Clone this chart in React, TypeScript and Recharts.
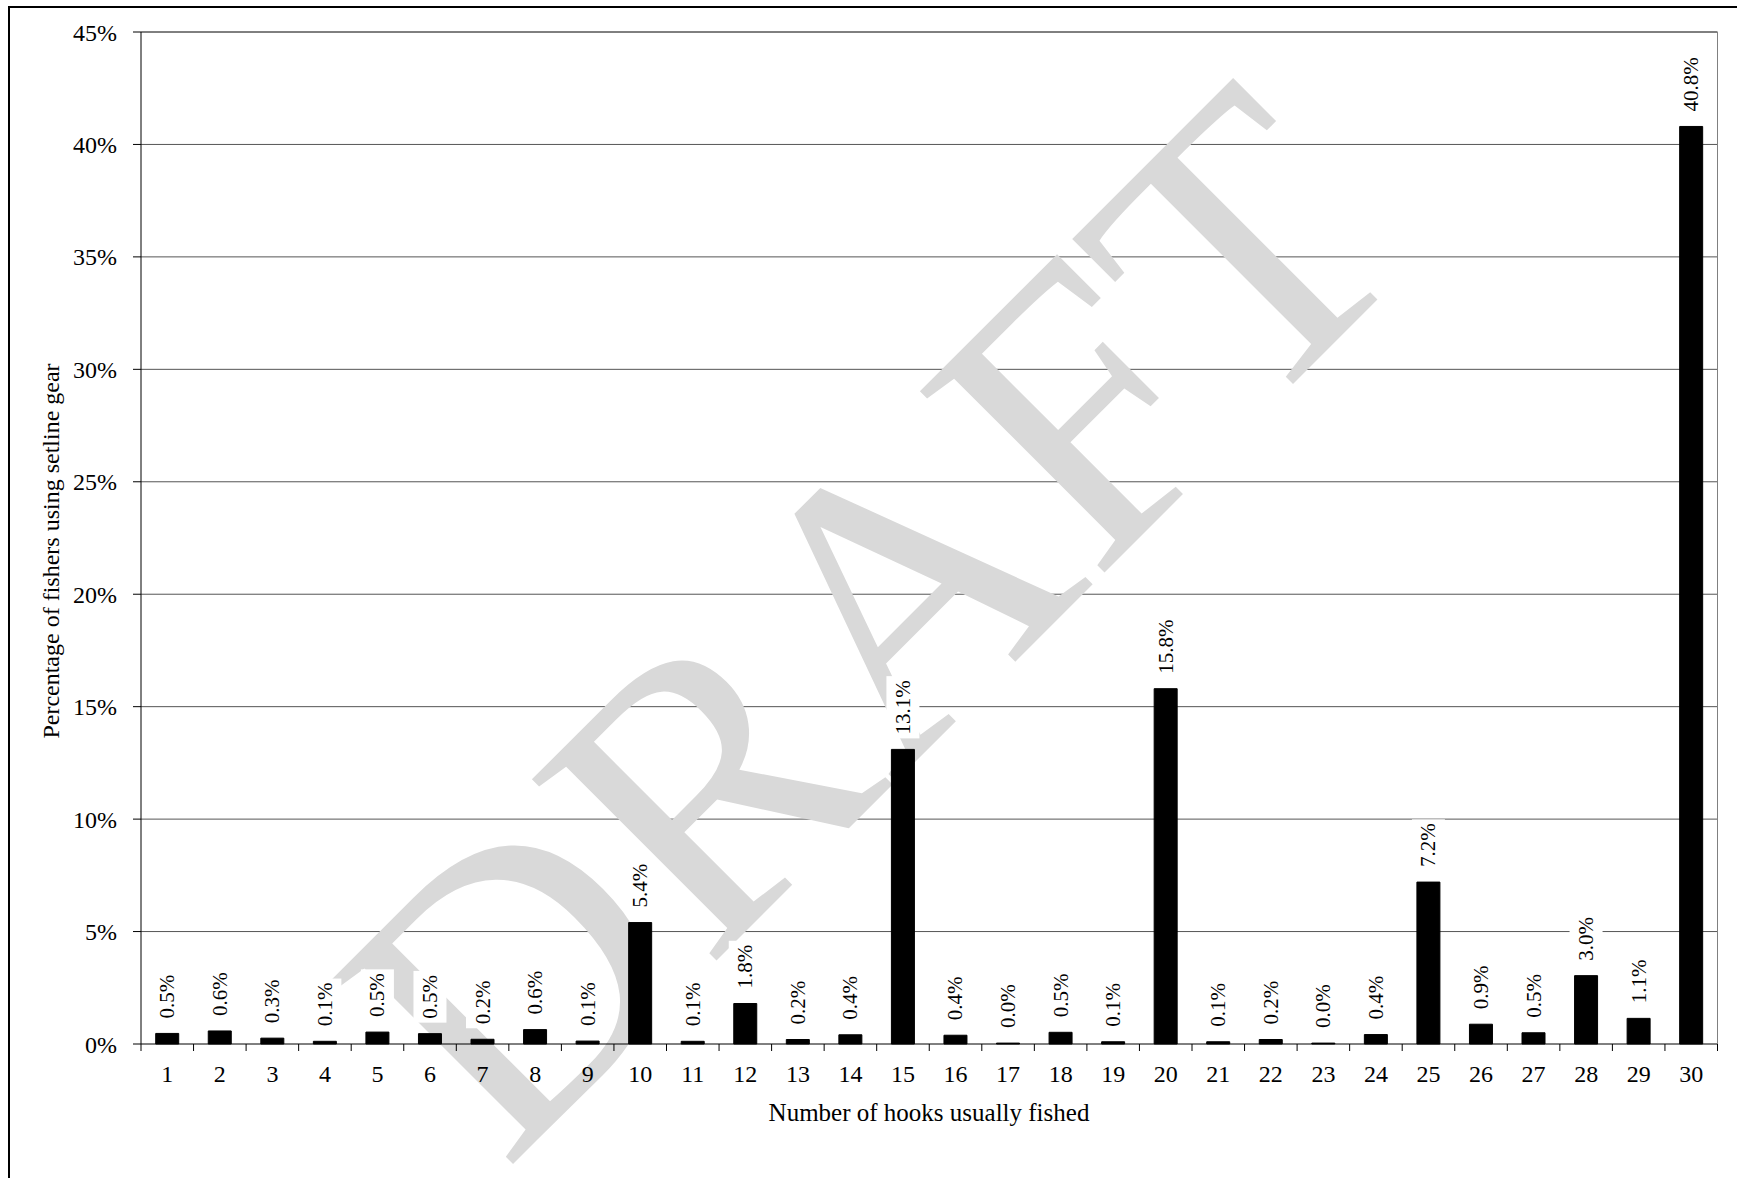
import React from 'react';
import { BarChart, Bar, XAxis, YAxis, LabelList, ReferenceLine } from 'recharts';

// ---- data ----
const hooks = ['1','2','3','4','5','6','7','8','9','10','11','12','13','14','15','16','17','18','19','20','21','22','23','24','25','26','27','28','29','30'];
const pctFishers = [0.47,0.58,0.26,0.12,0.53,0.46,0.21,0.64,0.13,5.4,0.12,1.8,0.2,0.41,13.1,0.39,0.04,0.52,0.1,15.8,0.1,0.2,0.04,0.42,7.2,0.88,0.5,3.04,1.14,40.8];
const yTicks = [0,5,10,15,20,25,30,35,40,45];
const xTitle = 'Number of hooks usually fished';
const yTitle = 'Percentage of fishers using setline gear';
const watermark = 'DRAFT';

const data = hooks.map((h, i) => ({ hook: h, pct: pctFishers[i] }));

// ---- layout ----
const W = 1737;
const H = 1178;
const Y_AXIS_W = 60;
const X_AXIS_H = 40;
const MARGIN = { top: 32, right: 18.5, bottom: 94, left: 81 };
const PLOT_W = W - MARGIN.left - Y_AXIS_W - MARGIN.right - 1;
const STEP = PLOT_W / hooks.length;
const FONT = '"Liberation Serif", "Times New Roman", Times, serif';

const charW = (c: string) => (c === '.' ? 0.25 : c === '%' ? 0.833 : 0.5);

const renderLabel = (props: any) => {
  const vb = props.viewBox || {};
  const x = props.x ?? vb.x;
  const y = props.y ?? vb.y;
  const w = props.width ?? vb.width;
  const v = Number(props.value);
  const text = v.toFixed(1) + '%';
  const fs = 21;
  const len = text.split('').reduce((s, c) => s + charW(c), 0) * fs;
  const cx = x + w / 2;
  const y0 = y - 15;
  return (
    <g transform={`translate(${cx},${y0}) rotate(-90)`}>
      <rect x={-4} y={-16.5} width={len + 8} height={33} fill="#ffffff" />
      <text x={0} y={0} textAnchor="start" dominantBaseline="central" fontSize={fs} fontFamily={FONT} fill="#000">
        {text}
      </text>
    </g>
  );
};

const XTick = (props: any) => {
  const { x, y, payload, index } = props;
  const cx = payload && payload.coordinate != null ? payload.coordinate : x;
  const last = index === hooks.length - 1;
  return (
    <g>
      <line x1={cx - STEP / 2} x2={cx - STEP / 2} y1={y} y2={y + 7} stroke="#000" strokeWidth={1} />
      {last && <line x1={cx + STEP / 2} x2={cx + STEP / 2} y1={y} y2={y + 7} stroke="#000" strokeWidth={1} />}
      <text x={cx} y={y + 38} textAnchor="middle" fontSize={24} fontFamily={FONT} fill="#000">
        {payload.value}
      </text>
    </g>
  );
};

const fmtPct = (v: number) => `${v}%`;

const layer: React.CSSProperties = { position: 'absolute', left: 0, top: 0, width: W, height: H };

export default function App() {
  return (
    <div style={{ position: 'absolute', left: 0, top: 0, width: W, height: H, overflow: 'hidden', background: '#fff' }}>
      {/* outer frame */}
      <div style={{ position: 'absolute', left: 7.5, top: 5.5, width: W + 20, height: H + 20, borderLeft: '2px solid #000', borderTop: '2px solid #000' }} />

      {/* layer 1: gridlines */}
      <div style={layer}>
        <BarChart width={W} height={H} data={data} margin={MARGIN} barCategoryGap="28%">
          <XAxis dataKey="hook" height={X_AXIS_H} tick={false} tickLine={false} axisLine={false} interval={0} />
          <YAxis width={Y_AXIS_W} domain={[0, 45]} ticks={yTicks} interval={0} tick={false} tickLine={false} axisLine={false} />
          <YAxis yAxisId="r" orientation="right" width={1} domain={[0, 45]} ticks={yTicks} tick={false} tickLine={false} axisLine={false} />
          {yTicks.filter((t) => t > 0 && t < 45).map((t) => (
            <ReferenceLine key={t} y={t} stroke="#555555" strokeWidth={1} />
          ))}
          <Bar dataKey="pct" fill="none" stroke="none" isAnimationActive={false} />
        </BarChart>
      </div>

      {/* layer 2: watermark and titles */}
      <svg style={layer} width={W} height={H}>
        <text
          transform="translate(505,1172) rotate(-45)"
          x={0}
          y={0}
          fontSize={395}
          fontFamily={FONT}
          fill="#d9d9d9"
        >
          {watermark}
        </text>
        <text x={929} y={1121} textAnchor="middle" fontSize={25} fontFamily={FONT} fill="#000">
          {xTitle}
        </text>
        <text transform="translate(59,551) rotate(-90)" x={0} y={0} textAnchor="middle" fontSize={24} fontFamily={FONT} fill="#000">
          {yTitle}
        </text>
      </svg>

      {/* layer 3: axes, bars, labels */}
      <div style={layer}>
        <BarChart width={W} height={H} data={data} margin={MARGIN} barCategoryGap="28%">
          <XAxis
            dataKey="hook"
            height={X_AXIS_H}
            interval={0}
            tickSize={0}
            tickMargin={0}
            tickLine={false}
            tick={<XTick />}
            axisLine={{ stroke: '#000', strokeWidth: 1 }}
          />
          <YAxis
            width={Y_AXIS_W}
            domain={[0, 45]}
            ticks={yTicks}
            interval={0}
            tickFormatter={fmtPct}
            tickSize={8}
            tickMargin={16}
            tickLine={{ stroke: '#000' }}
            axisLine={{ stroke: '#000' }}
            tick={{ fontSize: 24, fontFamily: FONT, fill: '#000' }}
          />
          <YAxis
            yAxisId="r"
            orientation="right"
            width={1}
            domain={[0, 45]}
            ticks={yTicks}
            tick={false}
            tickLine={false}
            axisLine={{ stroke: '#808080' }}
          />
          <ReferenceLine y={45} stroke="#000" strokeWidth={1} />
          <Bar dataKey="pct" fill="#000" stroke="#000" strokeWidth={1} isAnimationActive={false}>
            <LabelList dataKey="pct" content={renderLabel} />
          </Bar>
        </BarChart>
      </div>
    </div>
  );
}
